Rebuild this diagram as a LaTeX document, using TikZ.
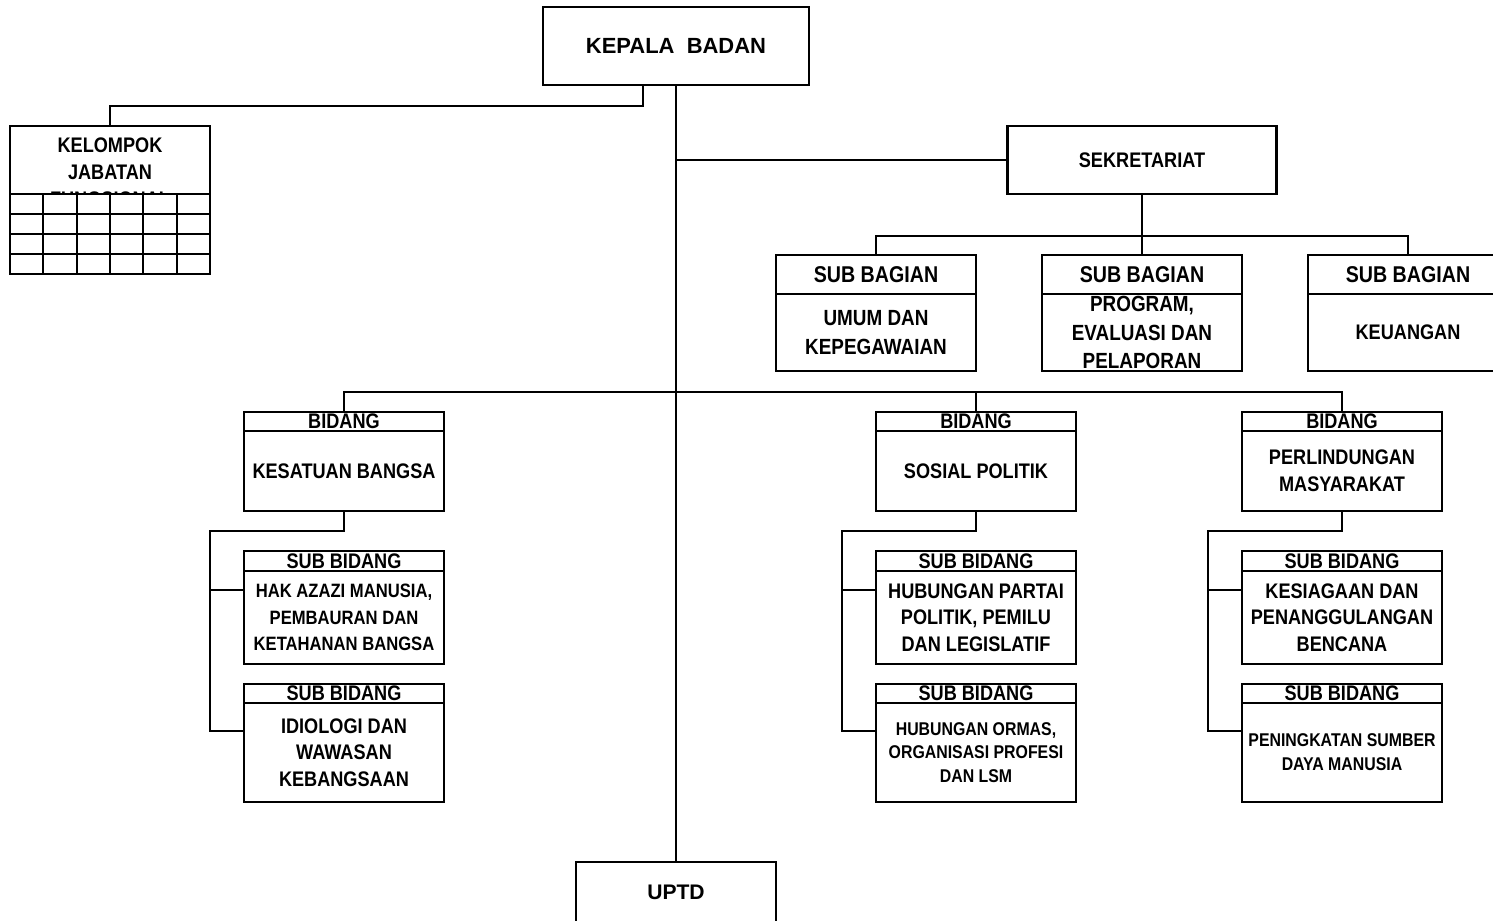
\documentclass[tikz,border=0pt]{standalone}
\usepackage{fontspec}
\setmainfont{Liberation Sans}
\newfontfamily\narrow[FakeStretch=0.86]{Liberation Sans}
\usetikzlibrary{positioning}

\tikzset{
  box/.style={draw, line width=1.25pt, inner sep=0pt, outer sep=0pt, minimum width=4cm, align=center},
  hdr/.style={box, font=\narrow\bfseries\fontsize{12}{14}\selectfont},
  txt/.style={font=\narrow\bfseries\fontsize{12}{15.2}\selectfont},
  wide/.style={font=\bfseries\fontsize{12.5}{14}\selectfont},
  conn/.style={line width=1.25pt},
}

\begin{document}
\begin{tikzpicture}[x=0.02cm, y=-0.02cm]
\useasboundingbox (0,0) rectangle (1493,920);

% pimpinan dan sekretariat
\node[box, wide, minimum width=5.32cm, minimum height=1.56cm] (kepala) at (676,46) {KEPALA~~BADAN};
\node[box, font=\bfseries\fontsize{12}{14}\selectfont, minimum height=1.2cm] (uptd) at (676,892) {UPTD};
\node[box, txt, minimum width=5.38cm, minimum height=1.36cm] (sek) at (1142,160) {SEKRETARIAT};

% kelompok jabatan fungsional
\node[box, minimum height=2.96cm] (kjf) at (110,200) {};
\node[txt, align=center, anchor=north] (kjf-t) at (110,132) {KELOMPOK\\JABATAN\\FUNGSIONAL};
\fill[white] (11,195) rectangle (209,273);
\foreach \y in {194,214,234,254,274} \draw[conn] (10,\y) -- (210,\y);
\foreach \x in {10,43.3,76.7,110,143.3,176.7,210} \draw[conn] (\x,194) -- (\x,274);

% sub bagian
\node[hdr, minimum height=0.78cm, anchor=north, font=\narrow\bfseries\fontsize{13}{14}\selectfont] (sbu-h) at (876,255) {SUB BAGIAN};
\node[box, txt, minimum height=1.54cm, below=0pt of sbu-h, font=\narrow\bfseries\fontsize{12.5}{16.5}\selectfont] (sbu) {UMUM DAN\\KEPEGAWAIAN};
\node[hdr, minimum height=0.78cm, anchor=north, font=\narrow\bfseries\fontsize{13}{14}\selectfont] (sbp-h) at (1142,255) {SUB BAGIAN};
\node[box, txt, minimum height=1.54cm, below=0pt of sbp-h, font=\narrow\bfseries\fontsize{12.5}{16}\selectfont] (sbp) {PROGRAM,\\EVALUASI DAN\\PELAPORAN};
\node[hdr, minimum height=0.78cm, anchor=north, font=\narrow\bfseries\fontsize{13}{14}\selectfont] (sbk-h) at (1408,255) {SUB BAGIAN};
\node[box, txt, minimum height=1.54cm, below=0pt of sbk-h] (sbk) {KEUANGAN};

% bidang kesatuan bangsa
\node[hdr, minimum height=0.38cm, anchor=north] (bkb-h) at (344,412) {BIDANG};
\node[box, txt, minimum height=1.6cm, below=0pt of bkb-h] (bkb) {KESATUAN BANGSA};
\node[hdr, minimum height=0.4cm, anchor=north] (hak-h) at (344,551) {SUB BIDANG};
\node[box, txt, minimum height=1.86cm, below=0pt of hak-h, font=\narrow\bfseries\fontsize{11}{15.2}\selectfont] (hak) {HAK AZAZI MANUSIA,\\PEMBAURAN DAN\\KETAHANAN BANGSA};
\node[hdr, minimum height=0.38cm, anchor=north] (idi-h) at (344,684) {SUB BIDANG};
\node[box, txt, minimum height=1.98cm, below=0pt of idi-h] (idi) {IDIOLOGI DAN\\WAWASAN\\KEBANGSAAN};

% bidang sosial politik
\node[hdr, minimum height=0.38cm, anchor=north] (bsp-h) at (976,412) {BIDANG};
\node[box, txt, minimum height=1.6cm, below=0pt of bsp-h] (bsp) {SOSIAL POLITIK};
\node[hdr, minimum height=0.4cm, anchor=north] (hpp-h) at (976,551) {SUB BIDANG};
\node[box, txt, minimum height=1.86cm, below=0pt of hpp-h] (hpp) {HUBUNGAN PARTAI\\POLITIK, PEMILU\\DAN LEGISLATIF};
\node[hdr, minimum height=0.38cm, anchor=north] (hor-h) at (976,684) {SUB BIDANG};
\node[box, txt, minimum height=1.98cm, below=0pt of hor-h, font=\narrow\bfseries\fontsize{10.5}{13.5}\selectfont] (hor) {HUBUNGAN ORMAS,\\ORGANISASI PROFESI\\DAN LSM};

% bidang perlindungan masyarakat
\node[hdr, minimum height=0.38cm, anchor=north] (bpm-h) at (1342,412) {BIDANG};
\node[box, txt, minimum height=1.6cm, below=0pt of bpm-h] (bpm) {PERLINDUNGAN\\MASYARAKAT};
\node[hdr, minimum height=0.4cm, anchor=north] (kpb-h) at (1342,551) {SUB BIDANG};
\node[box, txt, minimum height=1.86cm, below=0pt of kpb-h] (kpb) {KESIAGAAN DAN\\PENANGGULANGAN\\BENCANA};
\node[hdr, minimum height=0.38cm, anchor=north] (psd-h) at (1342,684) {SUB BIDANG};
\node[box, txt, minimum height=1.98cm, below=0pt of psd-h, font=\narrow\bfseries\fontsize{10.5}{13.5}\selectfont] (psd) {PENINGKATAN SUMBER\\DAYA MANUSIA};

% garis
\draw[conn] ([xshift=-0.66cm]kepala.south) -- ++(0,21) -| (kjf.north);
\draw[conn] (kepala.south) -- (uptd.north);
\draw[conn] (sek.west) -- (sek.west -| kepala.south);
\draw[conn] (sek.south) -- (sbp-h.north);
\draw[conn] (sbu-h.north) -- ++(0,-19) -| (sbk-h.north);
\draw[conn] (bkb-h.north) -- ++(0,-20) -| (bpm-h.north);
\draw[conn] (bsp-h.north) -- ++(0,-20);
\foreach \b/\s/\t in {bkb/hak/idi, bsp/hpp/hor, bpm/kpb/psd} {
  \draw[conn] (\b.south) -- ++(0,20) -| ([xshift=-0.68cm,yshift=0.43cm]\t.west) -- ([yshift=0.43cm]\t.west);
  \draw[conn] ([xshift=-0.68cm,yshift=0.55cm]\s.west) -- ([yshift=0.55cm]\s.west);
}
\end{tikzpicture}
\end{document}
